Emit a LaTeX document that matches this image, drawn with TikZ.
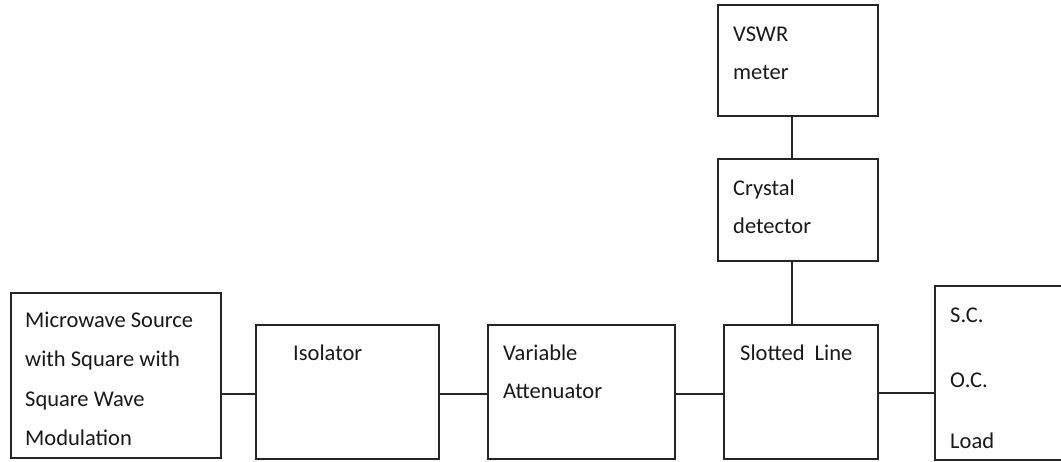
\documentclass[tikz,border=0pt]{standalone}
\usepackage{fontspec}
\setmainfont{Carlito}
\begin{document}
\begin{tikzpicture}[x=1pt,y=-1pt,
  box/.style={draw=black!85,line width=1.3pt,rectangle,inner sep=0pt,minimum width=#1},
  lbl/.style={anchor=base west,inner sep=0pt,font=\fontsize{22.5}{26}\selectfont,text=black!90},
  wire/.style={draw=black!85,line width=1.3pt}]
\useasboundingbox (0,0) rectangle (1061,461);
\clip (0,0) rectangle (1061,461);
% boxes
\node[box=210,minimum height=165] (src) at (116,375.5) {};
\node[box=183,minimum height=134] (iso) at (347.5,392) {};
\node[box=187,minimum height=134] (att) at (581.5,392) {};
\node[box=154,minimum height=134] (slot) at (801,392) {};
\node[box=160,minimum height=111] (vswr) at (798,60.5) {};
\node[box=160,minimum height=102] (cry) at (798,210) {};
\node[box=135,minimum height=174] (load) at (1002.5,373) {};
% texts
\node[lbl] (t1) at (25,327) {Microwave Source};
\node[lbl] (t2) at (25,366) {with Square with};
\node[lbl] (t3) at (25,406) {Square Wave};
\node[lbl] (t4) at (25,445) {Modulation};
\node[lbl] (t5) at (293,360) {Isolator};
\node[lbl] (t6) at (503,360) {Variable};
\node[lbl] (t7) at (503,398) {Attenuator};
\node[lbl] (t8) at (740,360) {Slotted\ \ Line};
\node[lbl] (t9) at (733,41) {VSWR};
\node[lbl] (t10) at (733,79) {meter};
\node[lbl] (t11) at (733,195) {Crystal};
\node[lbl] (t12) at (733,233) {detector};
\node[lbl] (t13) at (950,322) {S.C.};
\node[lbl] (t14) at (950,387) {O.C.};
\node[lbl] (t15) at (950,448) {Load};
% connectors
\draw[wire] ([yshift=-2pt]src.east |- iso.west) -- ([yshift=-2pt]iso.west);
\draw[wire] ([yshift=-2pt]iso.east) -- ([yshift=-2pt]att.west);
\draw[wire] ([yshift=-2pt]att.east) -- ([yshift=-2pt]slot.west);
\draw[wire] ([yshift=-1pt]slot.east) -- ([yshift=-1pt]load.west |- slot.east);
\draw[wire] ([xshift=-6pt]vswr.south) -- ([xshift=-6pt]cry.north);
\draw[wire] ([xshift=-6pt]cry.south) -- ([xshift=-6pt]cry.south |- slot.north);
\end{tikzpicture}
\end{document}
